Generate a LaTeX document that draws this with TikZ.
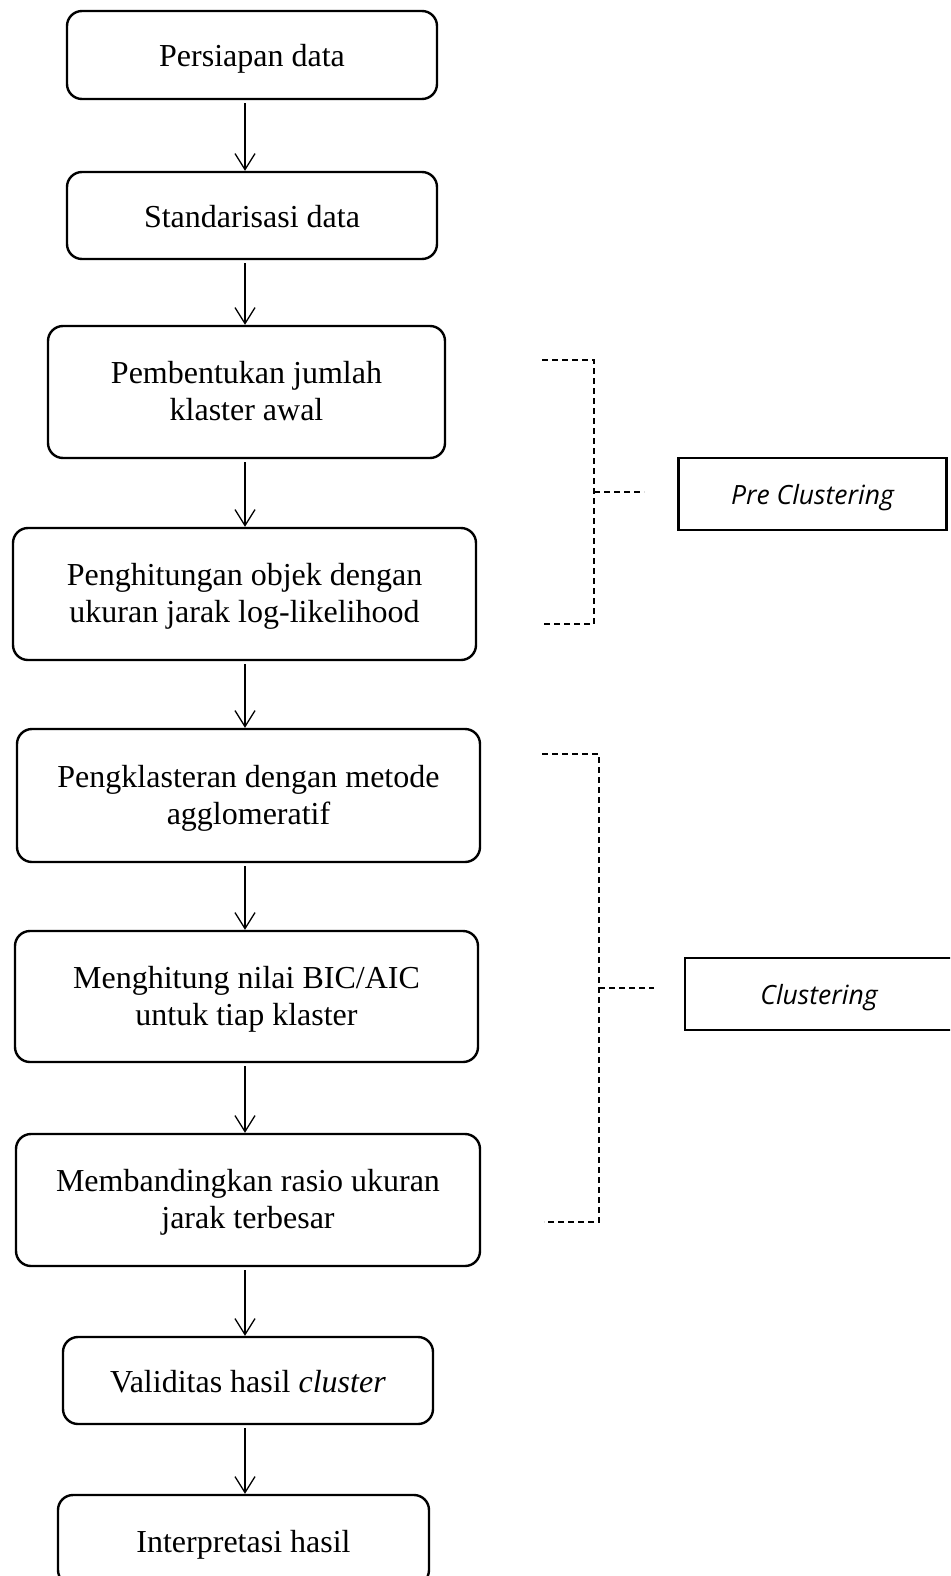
\documentclass[tikz,border=0pt]{standalone}
\usepackage{fontspec}
\setmainfont{Liberation Serif}
\newfontfamily\sidefont{Open Sans}
\usetikzlibrary{arrows.meta,calc}
\begin{document}
\begin{tikzpicture}[x=1pt,y=-1pt,
  stepbox/.style={draw, line width=2.4pt, rounded corners=15pt, rectangle,
    align=center, inner sep=0pt, font=\fontsize{32}{37}\selectfont},
  oneline/.style={text height=30pt, text depth=6pt},
  twoline/.style={text depth=2pt},
  sidebox/.style={draw, line width=2.4pt, rectangle, align=center, inner sep=0pt,
    text height=20pt, text depth=0pt,
    minimum width=268pt, minimum height=72pt, font=\sidefont\itshape\fontsize{26.5}{30}\selectfont},
  arr/.style={line width=1.3pt, -{Straight Barb[length=16pt,width=20pt,line width=1.3pt]}, shorten <=3pt},
  dsh/.style={line width=1.4pt, dash pattern=on 6pt off 4pt}]
\useasboundingbox (0,0) rectangle (950,1576);
\begin{scope}
\clip (0,0) rectangle (950,1576);
\fill[white] (0,0) rectangle (950,1576);
\coordinate (ax) at (245,0);

\node[stepbox, oneline, minimum width=370pt, minimum height=88pt] (b1) at (252,55) {Persiapan data};
\node[stepbox, oneline, minimum width=370pt, minimum height=87pt] (b2) at (252,215.5) {Standarisasi data};
\node[stepbox, twoline, minimum width=397pt, minimum height=132pt] (b3) at (246.5,392) {Pembentukan jumlah\\klaster awal};
\node[stepbox, twoline, minimum width=463pt, minimum height=132pt] (b4) at (244.5,594) {Penghitungan objek dengan\\ukuran jarak log-likelihood};
\node[stepbox, twoline, minimum width=463pt, minimum height=133pt] (b5) at (248.5,795.5) {Pengklasteran dengan metode\\agglomeratif};
\node[stepbox, twoline, minimum width=463pt, minimum height=131pt] (b6) at (246.5,996.5) {Menghitung nilai BIC/AIC\\untuk tiap klaster};
\node[stepbox, twoline, minimum width=464pt, minimum height=132pt] (b7) at (248,1200) {Membandingkan rasio ukuran\\jarak terbesar};
\node[stepbox, oneline, minimum width=370pt, minimum height=87pt] (b8) at (248,1380.5) {Validitas hasil \textit{cluster}};
\node[stepbox, oneline, minimum width=371pt, minimum height=90pt] (b9) at (243.5,1540) {Interpretasi hasil};

\draw[arr] (b1.south -| ax) -- (b2.north -| ax);
\draw[arr] (b2.south -| ax) -- (b3.north -| ax);
\draw[arr] (b3.south -| ax) -- (b4.north -| ax);
\draw[arr] (b4.south -| ax) -- (b5.north -| ax);
\draw[arr] (b5.south -| ax) -- (b6.north -| ax);
\draw[arr] (b6.south -| ax) -- (b7.north -| ax);
\draw[arr] (b7.south -| ax) -- (b8.north -| ax);
\draw[arr] (b8.south -| ax) -- (b9.north -| ax);

\node[sidebox] (pre) at (812.5,494) {Pre Clustering};
\node[sidebox] (clu) at (819,994) {Clustering};

\coordinate (p1) at (542,360);
\coordinate (p2) at (594,360);
\coordinate (p3) at (594,624);
\coordinate (p4) at (544,624);
\coordinate (pm) at (594,492);
\coordinate (pe) at (644,492);
\draw[dsh] (p1) -- (p2) -- (p3) -- (p4);
\draw[dsh] (pm) -- (pe);

\coordinate (c1) at (542,754);
\coordinate (c2) at (599,754);
\coordinate (c3) at (599,1222);
\coordinate (c4) at (544,1222);
\coordinate (cm) at (599,988);
\coordinate (ce) at (654,988);
\draw[dsh] (c1) -- (c2) -- (c3) -- (c4);
\draw[dsh] (cm) -- (ce);
\end{scope}
\end{tikzpicture}
\end{document}
